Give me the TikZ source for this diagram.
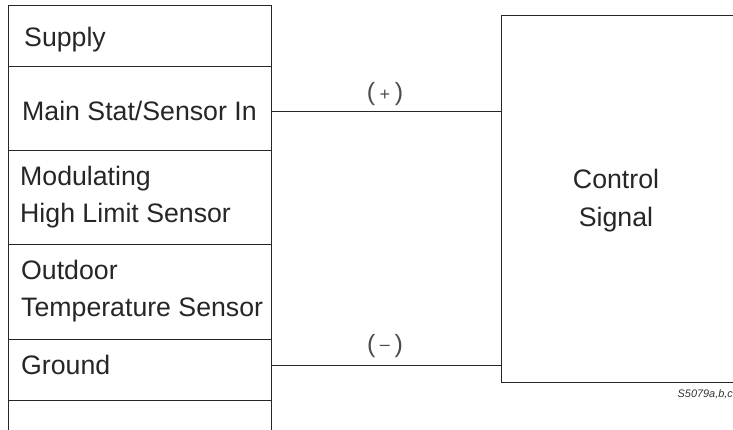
\documentclass[tikz,border=0pt]{standalone}
\usepackage{fontspec}
\setmainfont{Liberation Sans}
\tikzset{
  cell/.style={draw=black!85,line width=0.9pt,anchor=north west,inner sep=0pt,minimum width=263pt},
  lbl/.style={anchor=base west,inner sep=0pt,text=black!85,font=\fontsize{26.7}{30}\selectfont},
  sign/.style={anchor=base,inner sep=0pt,text=black!70,font=\fontsize{25}{27}\selectfont},
  wire/.style={draw=black!85,line width=0.9pt},
  ctl/.style={anchor=base,inner sep=0pt,text=black!85,font=\fontsize{26.7}{30}\selectfont}
}
\begin{document}
\begin{tikzpicture}[x=1pt,y=-1pt]
\useasboundingbox (0,0) rectangle (733,429);
\clip (0,0) rectangle (733,429);
\node[cell,minimum height=61pt] (c1) at (8,5) {};
\node[cell,minimum height=84pt] (c2) at (8,66) {};
\node[cell,minimum height=94pt] (c3) at (8,150) {};
\node[cell,minimum height=95pt] (c4) at (8,244) {};
\node[cell,minimum height=61pt] (c5) at (8,339) {};
\node[cell,minimum height=60pt] (c6) at (8,400) {};
\node[draw=black!85,line width=0.9pt,anchor=north west,inner sep=0pt,minimum width=300pt,minimum height=367pt] (control) at (501,15) {};
\node[lbl] (t1) at (24,46) {Supply};
\node[lbl] (t2) at (22,120) {Main Stat/Sensor In};
\node[lbl] (t3a) at (20,185) {Modulating};
\node[lbl] (t3b) at (20,222) {High Limit Sensor};
\node[lbl] (t4a) at (21,279) {Outdoor};
\node[lbl] (t4b) at (21,316) {Temperature Sensor};
\node[lbl] (t5) at (21,374) {Ground};
\node[ctl] (s1) at (616,188) {Control};
\node[ctl] (s2) at (616,226) {Signal};
\coordinate (mp) at (c2.east |- 0,111);
\coordinate (gp) at (c5.east |- 0,365);
\draw[wire] (mp) -- (mp -| control.west);
\draw[wire] (gp) -- (gp -| control.west);
\node[sign] (plus) at (385,100) {(\hspace{4.5pt}\fontsize{18}{20}\selectfont +\fontsize{25}{27}\selectfont\hspace{4.5pt})};
\node[sign] (minus) at (385,352) {(\hspace{4.5pt}\raisebox{2pt}{\fontsize{18}{20}\selectfont –}\hspace{4.5pt})};
\node[anchor=base west,inner sep=0pt,text=black!80,font=\fontsize{10.9}{13}\selectfont\itshape] (ref) at (677.5,397) {S5079a,b,c};
\end{tikzpicture}
\end{document}
